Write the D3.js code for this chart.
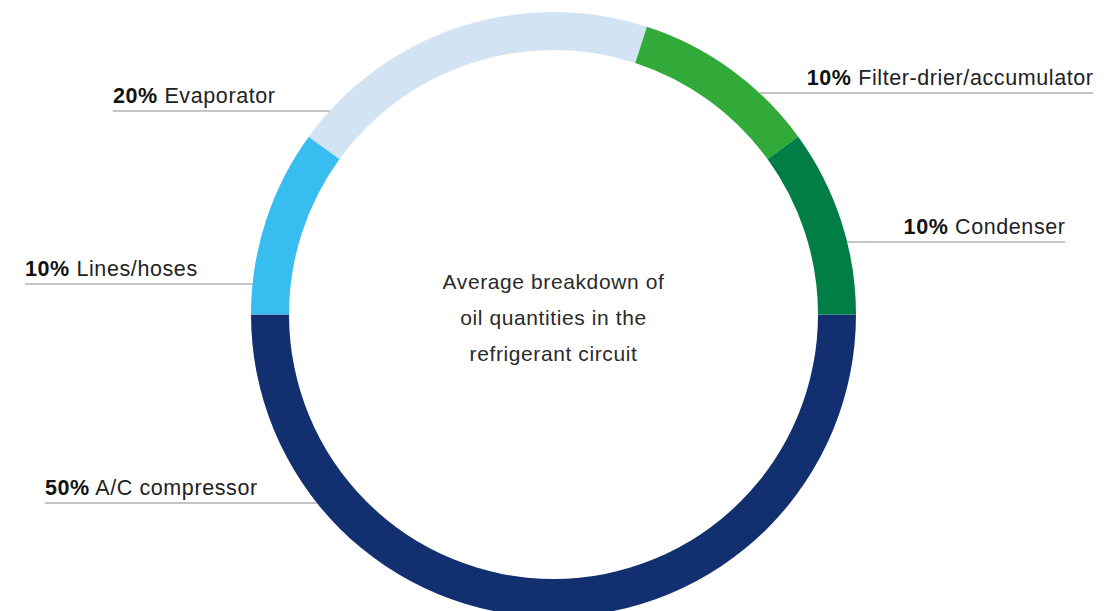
<!DOCTYPE html>
<html>
<head>
<meta charset="utf-8">
<script src="https://cdn.jsdelivr.net/npm/d3@7"></script>
<style>
  html, body { margin: 0; padding: 0; background: #fff; }
  svg { display: block; }
</style>
</head>
<body>
<div id="chart"></div>
<script>
// data
const categories = ['A/C compressor', 'Lines/hoses', 'Evaporator', 'Filter-drier/accumulator', 'Condenser'];
const shares = [50, 10, 20, 10, 10];
const colors = ['#12306f', '#38bdf0', '#d2e4f3', '#31aa3a', '#007e46'];
const centerLines = ['Average breakdown of', 'oil quantities in the', 'refrigerant circuit'];

// label placement: side, y of leader line, outer x of the text
const labelLayout = [
  { side: 'left', y: 503, x: 45 },
  { side: 'left', y: 284, x: 25 },
  { side: 'left', y: 111, x: 113 },
  { side: 'right', y: 93, x: 1093 },
  { side: 'right', y: 242, x: 1065 },
];

const width = 1119;
const height = 611;
const cx = 553.5;
const cy = 314.5;
const outerR = 302.5;
const innerR = 264.5;
const fontFamily = '"Liberation Sans", Arial, Helvetica, sans-serif';

const svg = d3
  .select('#chart')
  .append('svg')
  .attr('width', width)
  .attr('height', height)
  .attr('viewBox', '0 0 ' + width + ' ' + height);

const ring = svg.append('g').attr('transform', `translate(${cx},${cy})`);

const pie = d3
  .pie()
  .sort(null)
  .value((d) => d)
  .startAngle(Math.PI / 2)
  .endAngle(Math.PI / 2 + 2 * Math.PI);

const arc = d3.arc().innerRadius(innerR).outerRadius(outerR);

ring
  .selectAll('path')
  .data(pie(shares))
  .join('path')
  .attr('d', arc)
  .attr('fill', (d, i) => colors[i]);

// leader lines + labels
const labels = svg.append('g').attr('font-family', fontFamily);

labelLayout.forEach((l, i) => {
  const dy = l.y - cy;
  const dx = Math.sqrt(outerR * outerR - dy * dy);
  const ringX = l.side === 'left' ? cx - dx : cx + dx;

  labels
    .append('line')
    .attr('x1', l.x)
    .attr('x2', ringX)
    .attr('y1', l.y)
    .attr('y2', l.y)
    .attr('stroke', '#8c8c8c')
    .attr('stroke-width', 1.2);

  const t = labels
    .append('text')
    .attr('x', l.side === 'left' ? l.x : l.x + 0.6)
    .attr('y', l.y - 8.5)
    .attr('font-size', 21.5)
    .attr('letter-spacing', 0.6)
    .attr('fill', '#222')
    .attr('text-anchor', l.side === 'left' ? 'start' : 'end');
  t.append('tspan').attr('font-weight', 'bold').attr('fill', '#111').text(shares[i] + '%');
  t.append('tspan').text(' ' + categories[i]);
});

// centre caption
svg
  .append('g')
  .selectAll('text')
  .data(centerLines)
  .join('text')
  .attr('x', cx)
  .attr('y', (d, i) => 289 + i * 36)
  .attr('text-anchor', 'middle')
  .attr('font-family', fontFamily)
  .attr('font-size', 21)
  .attr('letter-spacing', 0.6)
  .attr('fill', '#2a2a2a')
  .text((d) => d);
</script>
</body>
</html>
